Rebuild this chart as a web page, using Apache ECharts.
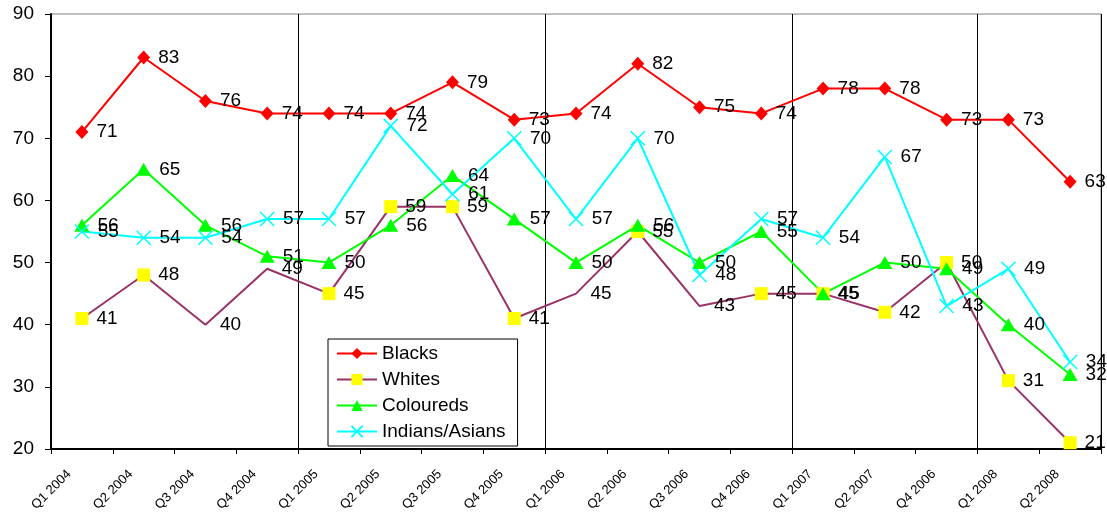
<!DOCTYPE html>
<html>
<head>
<meta charset="utf-8">
<script src="https://cdn.jsdelivr.net/npm/echarts@6/dist/echarts.min.js"></script>
<style>
  html, body { margin: 0; padding: 0; background: #ffffff; }
  #chart { width: 1107px; height: 514px; }
</style>
</head>
<body>
<div id="chart"></div>
<script>
// Quarter labels printed under the tick marks (the 2007 slot is labelled "Q4 2006" in the source)
const quarters = ['Q1 2004', 'Q2 2004', 'Q3 2004', 'Q4 2004', 'Q1 2005', 'Q2 2005', 'Q3 2005',
  'Q4 2005', 'Q1 2006', 'Q2 2006', 'Q3 2006', 'Q4 2006', 'Q1 2007', 'Q2 2007', 'Q4 2006',
  'Q1 2008', 'Q2 2008'];

const blacks   = [71, 83, 76, 74, 74, 74, 79, 73, 74, 82, 75, 74, 78, 78, 73, 73, 63];
const whites   = [41, 48, 40, 49, 45, 59, 59, 41, 45, 55, 43, 45, 45, 42, 50, 31, 21];
const coloureds = [56, 65, 56, 51, 50, 56, 64, 57, 50, 56, 50, 55, 45, 50, 49, 40, 32];
const indians  = [55, 54, 54, 57, 57, 72, 61, 70, 57, 70, 48, 57, 54, 67, 43, 49, 34];

// Whites points drawn without a square marker
const whitesHiddenMarkers = [2, 3, 8, 10];
// Quarters that start a new year get a full-height divider
const yearStarts = [4, 8, 12, 15, 17];

const FONT = "'Liberation Sans', Arial, sans-serif";

const chart = echarts.init(document.getElementById('chart'), null, { renderer: 'canvas' });

const labelStyle = {
  show: true,
  position: 'right',
  distance: 8,
  color: '#000000',
  fontSize: 19,
  fontFamily: FONT
};

function lineSeries(name, values, lineColor, symbol, symbolSize, itemStyle) {
  return {
    name: name,
    type: 'line',
    xAxisIndex: 0,
    yAxisIndex: 0,
    data: values,
    symbol: symbol,
    symbolSize: symbolSize,
    showAllSymbol: true,
    lineStyle: { color: lineColor, width: 2 },
    itemStyle: itemStyle,
    label: labelStyle,
    emphasis: { disabled: true },
    animation: false
  };
}

const whitesData = whites.map((v, i) =>
  whitesHiddenMarkers.includes(i) ? { value: v, itemStyle: { color: 'rgba(0,0,0,0)' } } : v);

const option = {
  backgroundColor: '#ffffff',
  animation: false,
  textStyle: { fontFamily: FONT },
  grid: {
    left: 51, right: 6, top: 14, bottom: 62,
    show: true,
    borderColor: '#808080',
    borderWidth: 1,
    backgroundColor: 'transparent'
  },
  legend: {
    orient: 'vertical',
    left: 328,
    top: 339,
    padding: [5, 12, 5, 8],
    itemGap: 7,
    itemWidth: 40,
    itemHeight: 14,
    backgroundColor: '#ffffff',
    borderColor: '#000000',
    borderWidth: 1,
    textStyle: { fontSize: 19, color: '#000000', fontFamily: FONT },
    data: ['Blacks', 'Whites', 'Coloureds', 'Indians/Asians']
  },
  xAxis: [
    {
      type: 'category',
      data: quarters,
      boundaryGap: true,
      show: false
    },
    {
      type: 'category',
      data: quarters.concat(['']),
      boundaryGap: false,
      position: 'bottom',
      axisLine: { show: true, lineStyle: { color: '#000000', width: 2 } },
      axisTick: { show: true, inside: false, length: 5, interval: 0, lineStyle: { color: '#000000', width: 1 } },
      axisLabel: {
        show: true,
        interval: 0,
        rotate: 45,
        margin: 5,
        verticalAlign: 'top',
        padding: [19, 0, 0, 0],
        fontSize: 13,
        color: '#000000',
        fontFamily: FONT
      },
      splitLine: {
        show: true,
        interval: (idx) => yearStarts.includes(idx),
        lineStyle: { color: '#000000', width: 1 }
      }
    }
  ],
  yAxis: {
    type: 'value',
    min: 20,
    max: 90,
    interval: 10,
    axisLine: { show: true, lineStyle: { color: '#000000', width: 2 } },
    axisTick: { show: true, inside: false, length: 6, lineStyle: { color: '#000000', width: 1 } },
    axisLabel: { margin: 17, fontSize: 19, color: '#000000', fontFamily: FONT },
    splitLine: { show: false }
  },
  series: [
    lineSeries('Blacks', blacks, '#FF0000', 'diamond', [13, 14], { color: '#FF0000' }),
    lineSeries('Whites', whitesData, '#993366', 'rect', 13, { color: '#FFFF00' }),
    lineSeries('Coloureds', coloureds, '#00FF00', 'triangle', [15, 13], { color: '#00FF00' }),
    lineSeries('Indians/Asians', indians, '#00FFFF', 'path://M0,0L10,10M10,0L0,10', 14,
      { color: '#00FFFF', borderColor: '#00FFFF', borderWidth: 1.5 })
  ]
};

chart.setOption(option);
</script>
</body>
</html>
